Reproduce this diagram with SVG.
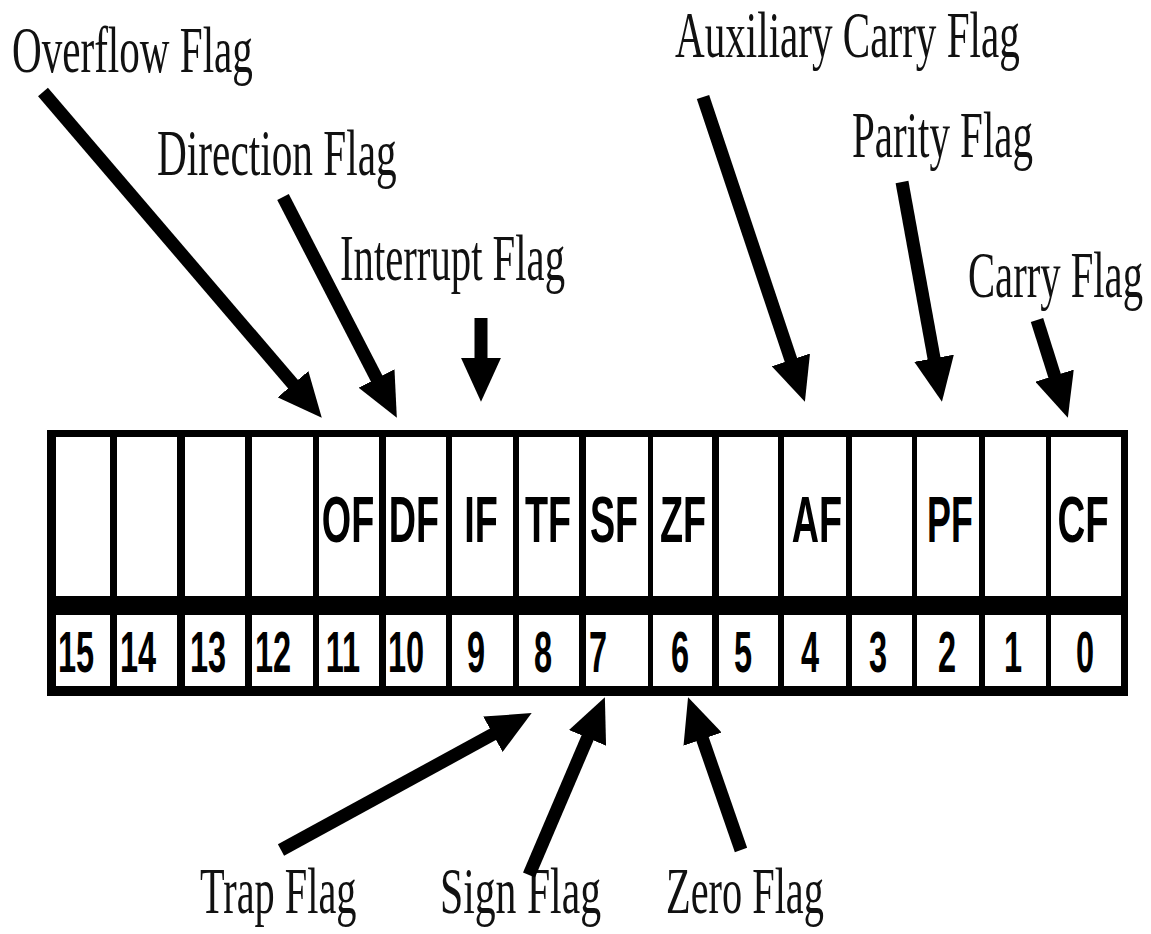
<svg xmlns="http://www.w3.org/2000/svg" width="1151" height="934" viewBox="0 0 1151 934">
  <style>
    .lbl { font-family: "Liberation Serif", "Times New Roman", serif; font-size: 66px; fill: #111; }
    .flag { font-family: "Liberation Sans", Arial, sans-serif; font-size: 64px; font-weight: bold; fill: #000; text-anchor: middle; }
    .num { font-family: "Liberation Sans", Arial, sans-serif; font-size: 58px; font-weight: bold; fill: #000; text-anchor: middle; }
    .cell { fill: #fff; }
    .arrow { stroke: #000; stroke-width: 13; fill: none; marker-end: url(#ah); }
  </style>
  <defs>
    <marker id="ah" viewBox="0 0 3.4 3.1" refX="1.7" refY="1.55" markerWidth="3.4" markerHeight="3.1" markerUnits="strokeWidth" orient="auto" preserveAspectRatio="none">
      <path d="M0,0 L3.4,1.55 L0,3.1 z" fill="#000"/>
    </marker>
  </defs>
  <rect x="0" y="0" width="1151" height="934" fill="#fff"/>

  <g id="register">
    <rect id="register-frame" x="47" y="430" width="1081" height="266" fill="#000"/>
    <g id="bit-15"><rect class="cell" x="56" y="437" width="54" height="159"/><rect class="cell" x="56" y="615" width="54" height="71"/><text class="num" transform="translate(76,672) scale(0.56,1)">15</text></g>
    <g id="bit-14"><rect class="cell" x="117" y="437" width="60" height="159"/><rect class="cell" x="117" y="615" width="60" height="71"/><text class="num" transform="translate(138,672) scale(0.56,1)">14</text></g>
    <g id="bit-13"><rect class="cell" x="185" y="437" width="60" height="159"/><rect class="cell" x="185" y="615" width="60" height="71"/><text class="num" transform="translate(208,672) scale(0.56,1)">13</text></g>
    <g id="bit-12"><rect class="cell" x="252" y="437" width="61" height="159"/><rect class="cell" x="252" y="615" width="61" height="71"/><text class="num" transform="translate(273,672) scale(0.56,1)">12</text></g>
    <g id="bit-11"><rect class="cell" x="319" y="437" width="60" height="159"/><rect class="cell" x="319" y="615" width="60" height="71"/><text class="flag" transform="translate(348,542) scale(0.59,1)">OF</text><text class="num" transform="translate(343,672) scale(0.56,1)">11</text></g>
    <g id="bit-10"><rect class="cell" x="386" y="437" width="60" height="159"/><rect class="cell" x="386" y="615" width="60" height="71"/><text class="flag" transform="translate(414,542) scale(0.59,1)">DF</text><text class="num" transform="translate(406,672) scale(0.56,1)">10</text></g>
    <g id="bit-9"><rect class="cell" x="452" y="437" width="61" height="159"/><rect class="cell" x="452" y="615" width="61" height="71"/><text class="flag" transform="translate(481,542) scale(0.59,1)">IF</text><text class="num" transform="translate(476,672) scale(0.56,1)">9</text></g>
    <g id="bit-8"><rect class="cell" x="519" y="437" width="60" height="159"/><rect class="cell" x="519" y="615" width="60" height="71"/><text class="flag" transform="translate(548,542) scale(0.59,1)">TF</text><text class="num" transform="translate(543,672) scale(0.56,1)">8</text></g>
    <g id="bit-7"><rect class="cell" x="586" y="437" width="62" height="159"/><rect class="cell" x="586" y="615" width="62" height="71"/><text class="flag" transform="translate(614,542) scale(0.59,1)">SF</text><text class="num" transform="translate(598,672) scale(0.56,1)">7</text></g>
    <g id="bit-6"><rect class="cell" x="653" y="437" width="59" height="159"/><rect class="cell" x="653" y="615" width="59" height="71"/><text class="flag" transform="translate(683,542) scale(0.59,1)">ZF</text><text class="num" transform="translate(680,672) scale(0.56,1)">6</text></g>
    <g id="bit-5"><rect class="cell" x="719" y="437" width="59" height="159"/><rect class="cell" x="719" y="615" width="59" height="71"/><text class="num" transform="translate(743,672) scale(0.56,1)">5</text></g>
    <g id="bit-4"><rect class="cell" x="784" y="437" width="62" height="159"/><rect class="cell" x="784" y="615" width="62" height="71"/><text class="flag" transform="translate(817,542) scale(0.59,1)">AF</text><text class="num" transform="translate(810,672) scale(0.56,1)">4</text></g>
    <g id="bit-3"><rect class="cell" x="852" y="437" width="60" height="159"/><rect class="cell" x="852" y="615" width="60" height="71"/><text class="num" transform="translate(878,672) scale(0.56,1)">3</text></g>
    <g id="bit-2"><rect class="cell" x="917" y="437" width="62" height="159"/><rect class="cell" x="917" y="615" width="62" height="71"/><text class="flag" transform="translate(950,542) scale(0.56,1)">PF</text><text class="num" transform="translate(947,672) scale(0.56,1)">2</text></g>
    <g id="bit-1"><rect class="cell" x="985" y="437" width="61" height="159"/><rect class="cell" x="985" y="615" width="61" height="71"/><text class="num" transform="translate(1013,672) scale(0.56,1)">1</text></g>
    <g id="bit-0"><rect class="cell" x="1051" y="437" width="70" height="159"/><rect class="cell" x="1051" y="615" width="70" height="71"/><text class="flag" transform="translate(1083,542) scale(0.6,1)">CF</text><text class="num" transform="translate(1085,672) scale(0.56,1)">0</text></g>
  </g>

  <g id="label-overflow"><text class="lbl" transform="translate(12,72) scale(0.623,1)">Overflow Flag</text></g>
  <g id="label-direction"><text class="lbl" transform="translate(157,175) scale(0.626,1)">Direction Flag</text></g>
  <g id="label-interrupt"><text class="lbl" transform="translate(340,280) scale(0.617,1)">Interrupt Flag</text></g>
  <g id="label-auxiliary"><text class="lbl" transform="translate(675,57) scale(0.623,1)">Auxiliary Carry Flag</text></g>
  <g id="label-parity"><text class="lbl" transform="translate(852,157) scale(0.621,1)">Parity Flag</text></g>
  <g id="label-carry"><text class="lbl" transform="translate(968,297) scale(0.616,1)">Carry Flag</text></g>
  <g id="label-trap"><text class="lbl" transform="translate(200,913) scale(0.611,1)">Trap Flag</text></g>
  <g id="label-sign"><text class="lbl" transform="translate(440,913) scale(0.632,1)">Sign Flag</text></g>
  <g id="label-zero"><text class="lbl" transform="translate(666,913) scale(0.611,1)">Zero Flag</text></g>

  <g id="connectors">
    <line class="arrow" x1="43" y1="92" x2="307.4" y2="401"/>
    <line class="arrow" x1="283" y1="197" x2="386.7" y2="398.1"/>
    <line class="arrow" x1="481" y1="318" x2="481" y2="379.6"/>
    <line class="arrow" x1="703" y1="97" x2="797.9" y2="380.8"/>
    <line class="arrow" x1="902" y1="182" x2="938" y2="380"/>
    <line class="arrow" x1="1037" y1="320" x2="1061.2" y2="396.7"/>
    <line class="arrow" x1="281" y1="850" x2="512.3" y2="723.7"/>
    <line class="arrow" x1="529" y1="875" x2="596.2" y2="717.6"/>
    <line class="arrow" x1="741" y1="850" x2="695.3" y2="718.2"/>
  </g>
</svg>
